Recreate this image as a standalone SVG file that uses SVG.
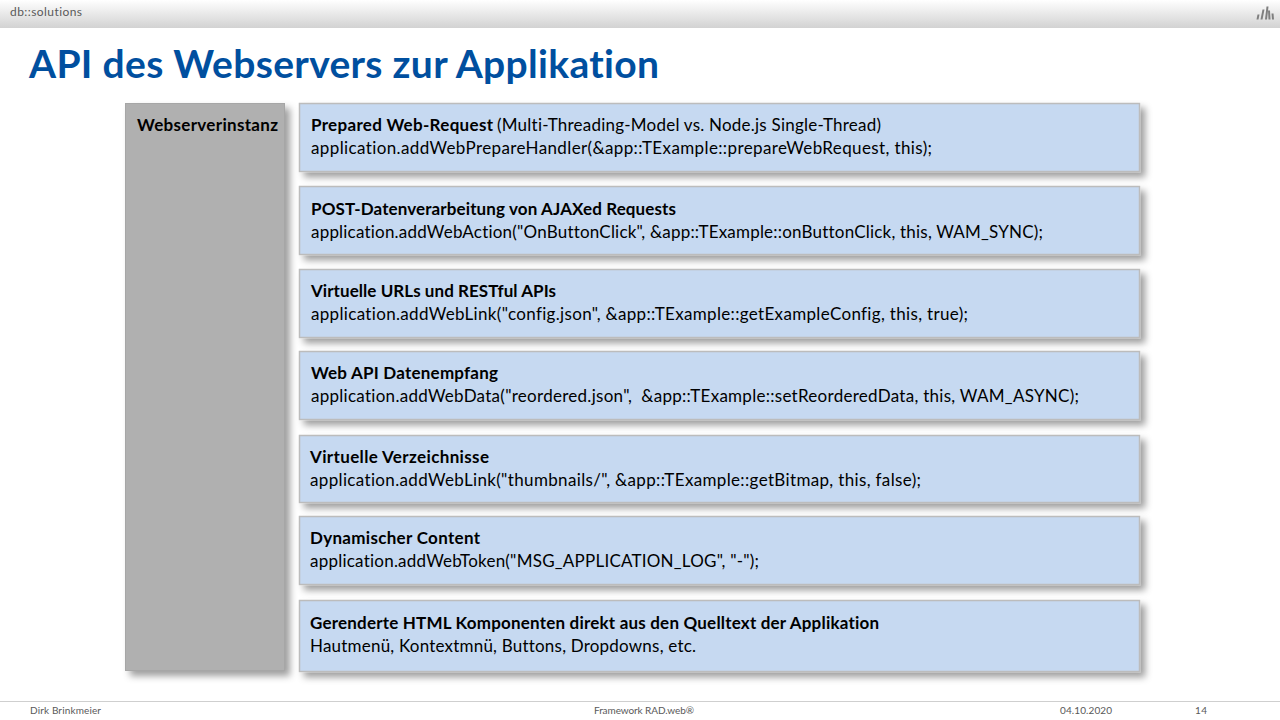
<svg xmlns="http://www.w3.org/2000/svg" width="1280" height="720" viewBox="0 0 1280 720">
<style>
text{font-family:Lato,"Open Sans","Liberation Sans",sans-serif;fill:#000;font-variant-ligatures:none}
.box{fill:#c6d9f1;stroke:#bcbcbc;stroke-width:1.5}
.b{font-weight:700;font-size:17px}
.r{font-size:17px}
.f{font-size:10px;fill:#595959}
</style>
<defs>
<linearGradient id="hdr" x1="0" y1="0" x2="0" y2="1"><stop offset="0" stop-color="#ffffff"/><stop offset="1" stop-color="#d2d2d2"/></linearGradient>
<filter id="sh" x="-10%" y="-10%" width="120%" height="130%"><feDropShadow dx="5" dy="5" stdDeviation="3.500" flood-color="#000" flood-opacity="0.38"/></filter>
</defs>
<rect width="1280" height="720" fill="#fff"/>
<g id="header">
<rect width="1280" height="28" fill="url(#hdr)"/>
<text x="10" y="16" textLength="72" style="font-size:12px;fill:#595959">db::solutions</text>
<g fill="#7f7f7f"><path d="M1256.500 19.500l1-5h2l-1 5zM1260.500 19.500l2-10h2l-2 10zM1265 19.500l1.500-13h2l-1.500 13zM1268.500 19.500l-.5-9h2l.500 9z M1272 19.500l-.5-6h2l.500 6z"/></g>
</g>
<text id="title" x="29" y="78" textLength="630" style="font-size:39px;font-weight:700;fill:#004f9f">API des Webservers zur Applikation</text>
<g id="node-webserverinstanz">
<rect x="125.500" y="103.500" width="159" height="567" fill="#b0b0b0" stroke="#a6a6a6" filter="url(#sh)"/>
<text class="b" x="137" y="131" textLength="141">Webserverinstanz</text>
</g>
<g id="node-prepared">
<rect class="box" x="299.500" y="103.500" width="840" height="68" filter="url(#sh)"/>
<text class="b" x="311" y="131" textLength="182">Prepared Web-Request</text>
<text class="r" x="497" y="131" textLength="384">(Multi-Threading-Model vs. Node.js Single-Thread)</text>
<text class="r" x="311" y="154" textLength="621">application.addWebPrepareHandler(&amp;app::TExample::prepareWebRequest, this);</text>
</g>
<g id="node-post">
<rect class="box" x="299.500" y="186.500" width="840" height="68" filter="url(#sh)"/>
<text class="b" x="311" y="215" textLength="365">POST-Datenverarbeitung von AJAXed Requests</text>
<text class="r" x="311" y="238" textLength="732">application.addWebAction("OnButtonClick", &amp;app::TExample::onButtonClick, this, WAM_SYNC);</text>
</g>
<g id="node-urls">
<rect class="box" x="299.500" y="269.500" width="840" height="68" filter="url(#sh)"/>
<text class="b" x="311" y="297" textLength="245">Virtuelle URLs und RESTful APIs</text>
<text class="r" x="311" y="320" textLength="657">application.addWebLink("config.json", &amp;app::TExample::getExampleConfig, this, true);</text>
</g>
<g id="node-data">
<rect class="box" x="299.500" y="351.500" width="840" height="68" filter="url(#sh)"/>
<text class="b" x="311" y="379" textLength="187">Web API Datenempfang</text>
<text class="r" x="311" y="402" xml:space="preserve" textLength="768">application.addWebData("reordered.json",  &amp;app::TExample::setReorderedData, this, WAM_ASYNC);</text>
</g>
<g id="node-verzeichnisse">
<rect class="box" x="299.500" y="435.500" width="840" height="67" filter="url(#sh)"/>
<text class="b" x="310" y="463" textLength="179">Virtuelle Verzeichnisse</text>
<text class="r" x="310" y="486" textLength="611">application.addWebLink("thumbnails/", &amp;app::TExample::getBitmap, this, false);</text>
</g>
<g id="node-content">
<rect class="box" x="299.500" y="516.500" width="840" height="68" filter="url(#sh)"/>
<text class="b" x="310" y="544" textLength="170">Dynamischer Content</text>
<text class="r" x="310" y="567" textLength="449">application.addWebToken("MSG_APPLICATION_LOG", "-");</text>
</g>
<g id="node-html">
<rect class="box" x="299.500" y="600.500" width="840" height="71" filter="url(#sh)"/>
<text class="b" x="310" y="629" textLength="569">Gerenderte HTML Komponenten direkt aus den Quelltext der Applikation</text>
<text class="r" x="310" y="652" textLength="386">Hautmenü, Kontextmnü, Buttons, Dropdowns, etc.</text>
</g>
<g id="connectors"/>
<g id="footer">
<rect x="0" y="701" width="1280" height="1" fill="#cfcfcf"/>
<text class="f" x="30" y="714" textLength="71">Dirk Brinkmeier</text>
<text class="f" x="594" y="714" textLength="100">Framework RAD.web®</text>
<text class="f" x="1060" y="714" textLength="52">04.10.2020</text>
<text class="f" x="1195" y="714" textLength="12">14</text>
</g>
</svg>
